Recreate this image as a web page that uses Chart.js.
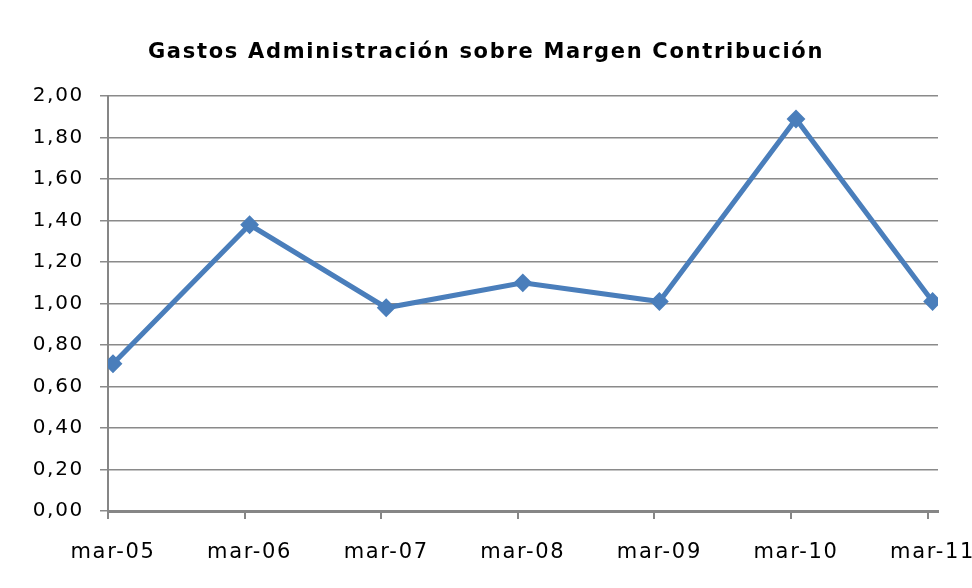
<!DOCTYPE html>
<html>
<head>
<meta charset="utf-8">
<script src="https://cdn.jsdelivr.net/npm/chart.js@4/dist/chart.umd.min.js"></script>
<style>
  html, body { margin: 0; padding: 0; background: #fff; }
  #wrap { width: 972px; height: 588px; }
</style>
</head>
<body>
<div id="wrap"><canvas id="c" width="972" height="588"></canvas></div>
<script>
const chartTitle = 'Gastos Administración sobre Margen Contribución';
const categories = ['mar-05', 'mar-06', 'mar-07', 'mar-08', 'mar-09', 'mar-10', 'mar-11'];
const ratioValues = [0.71, 1.38, 0.98, 1.10, 1.01, 1.89, 1.01];
const yTickLabels = ['0,00', '0,20', '0,40', '0,60', '0,80', '1,00', '1,20', '1,40', '1,60', '1,80', '2,00'];

const LETTER_SPACING = '1.7px';
const spacingPlugin = {
  id: 'spacing',
  beforeUpdate(c) { c.ctx.letterSpacing = LETTER_SPACING; },
  beforeLayout(c) { c.ctx.letterSpacing = LETTER_SPACING; },
  beforeDraw(c) { c.ctx.letterSpacing = LETTER_SPACING; }
};

const GRID = '#8a8a8a';
const AXIS = '#868686';
const pxPerCat = 136.6;
const leftGap = 5;

new Chart(document.getElementById('c'), {
  type: 'line',
  data: {
    datasets: [{
      xAxisID: 'x',
      yAxisID: 'y',
      data: ratioValues.map((v, i) => ({ x: i, y: v })),
      borderColor: '#4a7ebb',
      backgroundColor: '#4a7ebb',
      borderWidth: 5,
      pointStyle: 'rectRot',
      pointRadius: 8,
      pointBorderWidth: 2,
      pointBorderColor: '#4a7ebb',
      pointBackgroundColor: '#4a7ebb',
      tension: 0,
      fill: false
    }]
  },
  plugins: [spacingPlugin],
  options: {
    responsive: false,
    animation: false,
    layout: { padding: 0 },
    plugins: {
      legend: { display: false },
      tooltip: { enabled: false },
      title: {
        display: true,
        text: chartTitle,
        color: '#000',
        font: { family: 'DejaVu Sans', size: 21, weight: 'bold', lineHeight: 1.2 },
        padding: { top: 40, bottom: 31 }
      }
    },
    scales: {
      x: {
        type: 'linear',
        position: 'bottom',
        weight: 1,
        min: -leftGap / pxPerCat,
        max: (830 - leftGap) / pxPerCat,
        afterBuildTicks(s) { s.ticks = categories.map((_, i) => ({ value: i })); },
        afterFit(s) { s.height = 69; s.paddingLeft = 0; s.paddingRight = 0; },
        ticks: {
          autoSkip: false,
          maxRotation: 0,
          minRotation: 0,
          padding: 13,
          color: '#000',
          font: { family: 'DejaVu Sans', size: 21 },
          callback: (v) => categories[v]
        },
        grid: { display: false },
        border: { display: false }
      },
      x2: {
        type: 'linear',
        position: 'bottom',
        weight: 0,
        min: 0,
        max: 830 / pxPerCat,
        afterBuildTicks(s) { s.ticks = categories.map((_, i) => ({ value: i })); },
        afterFit(s) { s.height = 8; s.paddingLeft = 0; s.paddingRight = 0; },
        ticks: { display: false },
        grid: { drawOnChartArea: false, drawTicks: true, tickLength: 8, color: AXIS, lineWidth: 2 },
        border: { display: true, color: AXIS, width: 3 }
      },
      y: {
        min: 0,
        max: 2,
        afterBuildTicks(s) { s.ticks = yTickLabels.map((_, i) => ({ value: i * 0.2 })); },
        afterFit(s) { s.width = 108; s.paddingTop = 0; s.paddingBottom = 0; },
        ticks: {
          padding: 16,
          color: '#000',
          font: { family: 'DejaVu Sans', size: 20 },
          callback: (v, i) => yTickLabels[i]
        },
        grid: { color: GRID, lineWidth: 1.5, tickLength: 8 },
        border: { display: true, color: AXIS, width: 2 }
      },
      yRightSpace: {
        type: 'linear',
        position: 'right',
        min: 0,
        max: 2,
        afterFit(s) { s.width = 34; s.paddingTop = 0; s.paddingBottom = 0; },
        ticks: { display: false },
        grid: { display: false, drawOnChartArea: false },
        border: { display: false }
      }
    }
  }
});
</script>
</body>
</html>
